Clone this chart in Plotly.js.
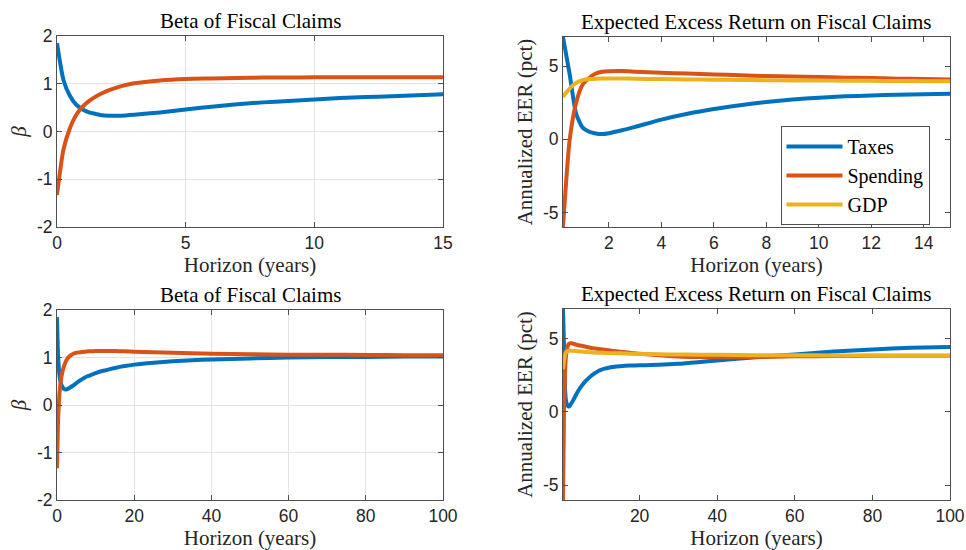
<!DOCTYPE html>
<html>
<head>
<meta charset="utf-8">
<script src="https://cdn.plot.ly/plotly-3.0.1.min.js"></script>
<style>html,body{margin:0;padding:0;background:#fff;}#chart{width:966px;height:550px;}</style>
</head>
<body>
<div id="chart"></div>
<script>
// Horizon (years) for beta series
const horizon = [0, 0.25, 0.5, 0.75, 1, 1.25, 1.5, 1.75, 2, 2.5, 3, 4, 5, 6, 7, 8, 9, 10, 11, 12, 13, 14, 15, 17.5, 20, 25, 30, 35, 40, 50, 60, 70, 80, 90, 100];
const betaTaxes = [1.85, 1.08, 0.75, 0.56, 0.46, 0.40, 0.37, 0.34, 0.33, 0.33, 0.35, 0.40, 0.46, 0.52, 0.57, 0.61, 0.64, 0.67, 0.70, 0.72, 0.74, 0.76, 0.78, 0.82, 0.85, 0.89, 0.92, 0.94, 0.96, 0.98, 1.00, 1.01, 1.01, 1.02, 1.02];
const betaSpending = [-1.33, -0.38, 0.07, 0.35, 0.52, 0.64, 0.73, 0.80, 0.86, 0.95, 1.01, 1.07, 1.10, 1.11, 1.12, 1.13, 1.13, 1.135, 1.135, 1.135, 1.135, 1.135, 1.135, 1.13, 1.12, 1.11, 1.10, 1.09, 1.08, 1.07, 1.06, 1.06, 1.055, 1.05, 1.05];

// Horizon (years) for expected excess return series
const eerHorizon = [0.25, 0.5, 0.75, 1, 1.25, 1.5, 1.75, 2, 2.5, 3, 4, 5, 6, 7, 8, 9, 10, 11, 12, 13, 14, 15, 17.5, 20, 25, 30, 35, 40, 50, 60, 70, 80, 90, 100];
const eerTaxes = [7.0, 4.5, 1.75, 0.8, 0.52, 0.40, 0.36, 0.42, 0.62, 0.85, 1.35, 1.75, 2.07, 2.33, 2.55, 2.72, 2.85, 2.94, 3.0, 3.05, 3.09, 3.11, 3.15, 3.17, 3.2, 3.27, 3.38, 3.5, 3.72, 3.9, 4.1, 4.25, 4.36, 4.42];
const eerSpending = [-6.0, -0.1, 2.5, 3.75, 4.2, 4.5, 4.62, 4.66, 4.67, 4.63, 4.55, 4.5, 4.44, 4.38, 4.33, 4.29, 4.26, 4.22, 4.19, 4.15, 4.12, 4.09, 4.02, 3.95, 3.85, 3.77, 3.73, 3.71, 3.73, 3.78, 3.8, 3.81, 3.81, 3.81];
const eerGDP = [2.9, 3.47, 3.86, 4.05, 4.12, 4.15, 4.16, 4.16, 4.16, 4.15, 4.12, 4.1, 4.08, 4.06, 4.04, 4.03, 4.02, 4.01, 4.0, 3.99, 3.98, 3.98, 3.96, 3.94, 3.92, 3.9, 3.89, 3.88, 3.86, 3.85, 3.84, 3.83, 3.82, 3.81];

const seriesNames = ['Taxes', 'Spending', 'GDP'];
const colors = ['#0072BD', '#D95319', '#EDB120'];

// Tick values and labels (hyphen-minus as in the original)
const betaTicks = [-2, -1, 0, 1, 2];
const betaTickText = ['-2', '-1', '0', '1', '2'];
const eerTicks = [-5, 0, 5];
const eerTickText = ['-5', '0', '5'];
const shortXTicks = [0, 5, 10, 15];
const shortXTicksEER = [2, 4, 6, 8, 10, 12, 14];
const longXTicks = [0, 20, 40, 60, 80, 100];
const longXTicksEER = [20, 40, 60, 80, 100];

const titleBeta = 'Beta of Fiscal Claims';
const titleEER = 'Expected Excess Return on Fiscal Claims';
const xTitle = 'Horizon (years)';
const yTitleBeta = '<i>β</i>';
const yTitleEER = 'Annualized EER (pct)';

const serif = 'Liberation Serif, Times New Roman, serif';
const sans = 'Liberation Sans, Arial, Helvetica, sans-serif';
const LW = 4;
const frame = '#505050';

function line(x, y, i, xa, ya, showleg) {
  return {x: x, y: y, xaxis: xa, yaxis: ya, type: 'scatter', mode: 'lines',
    name: seriesNames[i], showlegend: showleg, legendgroup: seriesNames[i],
    line: {color: colors[i], width: LW, shape: 'spline', smoothing: 0.6}, hoverinfo: 'skip'};
}

const data = [
  line(horizon, betaTaxes, 0, 'x', 'y', false),
  line(horizon, betaSpending, 1, 'x', 'y', false),
  line(eerHorizon, eerTaxes, 0, 'x2', 'y2', true),
  line(eerHorizon, eerSpending, 1, 'x2', 'y2', true),
  line(eerHorizon, eerGDP, 2, 'x2', 'y2', true),
  line(horizon, betaTaxes, 0, 'x3', 'y3', false),
  line(horizon, betaSpending, 1, 'x3', 'y3', false),
  line(eerHorizon, eerTaxes, 0, 'x4', 'y4', false),
  line(eerHorizon, eerSpending, 1, 'x4', 'y4', false),
  line(eerHorizon, eerGDP, 2, 'x4', 'y4', false)
];

const W = 966, H = 550;
function dx(a, b) { return [a / W, b / W]; }
function dy(top, bot) { return [(H - bot) / H, (H - top) / H]; }

function common(grid) {
  return {showgrid: grid, gridcolor: '#e3e3e3', gridwidth: 1, zeroline: false,
    showline: true, linecolor: frame, linewidth: 1, mirror: 'ticks',
    ticks: 'inside', ticklen: 5, tickcolor: frame, tickmode: 'array',
    tickfont: {family: sans, size: 17.5, color: '#262626'}};
}
function xax(dom, anchor, range, tv, grid) {
  return Object.assign(common(grid), {domain: dom, anchor: anchor, range: range,
    tickvals: tv, ticktext: tv.map(String),
    title: {text: xTitle, font: {family: serif, size: 21, color: '#262626'}, standoff: 2}});
}
function yax(dom, anchor, range, tv, tt, grid, title) {
  return Object.assign(common(grid), {domain: dom, anchor: anchor, range: range,
    tickvals: tv, ticktext: tt,
    title: {text: title, font: {family: serif, size: 21, color: '#262626'}, standoff: 4}});
}

const layout = {
  width: W, height: H,
  margin: {l: 0, r: 0, t: 0, b: 0},
  paper_bgcolor: '#ffffff', plot_bgcolor: '#ffffff',
  showlegend: true,
  legend: {x: 855 / W, y: (H - 175.5) / H, xanchor: 'center', yanchor: 'middle',
    bordercolor: frame, borderwidth: 1, bgcolor: '#ffffff',
    font: {family: serif, size: 20, color: '#000'}, tracegroupgap: 0, itemwidth: 56},
  xaxis: xax(dx(57, 443), 'y', [0, 15], shortXTicks, true),
  yaxis: yax(dy(36, 227), 'x', [-2, 2], betaTicks, betaTickText, true, yTitleBeta),
  xaxis2: xax(dx(563, 950), 'y2', [0.25, 15], shortXTicksEER, false),
  yaxis2: yax(dy(37, 227), 'x2', [-6, 7], eerTicks, eerTickText, false, yTitleEER),
  xaxis3: xax(dx(57, 443), 'y3', [0, 100], longXTicks, true),
  yaxis3: yax(dy(310, 500), 'x3', [-2, 2], betaTicks, betaTickText, true, yTitleBeta),
  xaxis4: xax(dx(563, 950), 'y4', [0.25, 100], longXTicksEER, false),
  yaxis4: yax(dy(309, 500), 'x4', [-6, 7], eerTicks, eerTickText, false, yTitleEER),
  annotations: [
    {text: titleBeta, xref: 'x domain', yref: 'y domain', x: 0.5, y: 1, yanchor: 'bottom', yshift: 1, showarrow: false, font: {family: serif, size: 21, color: '#000'}},
    {text: titleEER, xref: 'x2 domain', yref: 'y2 domain', x: 0.5, y: 1, yanchor: 'bottom', yshift: 1, showarrow: false, font: {family: serif, size: 21, color: '#000'}},
    {text: titleBeta, xref: 'x3 domain', yref: 'y3 domain', x: 0.5, y: 1, yanchor: 'bottom', yshift: 1, showarrow: false, font: {family: serif, size: 21, color: '#000'}},
    {text: titleEER, xref: 'x4 domain', yref: 'y4 domain', x: 0.5, y: 1, yanchor: 'bottom', yshift: 1, showarrow: false, font: {family: serif, size: 21, color: '#000'}}
  ]
};

Plotly.newPlot('chart', data, layout, {staticPlot: true, displayModeBar: false});
</script>
</body>
</html>
